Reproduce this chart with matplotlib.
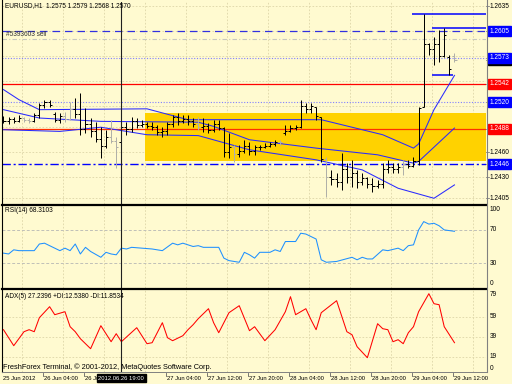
import matplotlib
matplotlib.use('Agg')
import matplotlib.pyplot as plt
from matplotlib.transforms import blended_transform_factory as btf

# ---------------- data ----------------
opens = [1.2500,1.2497,1.2500,1.2497,1.2501,1.2499,1.2498,1.2505,1.2516,1.2520,
         1.2506,1.2499,1.2503,1.2500,1.2512,1.2506,1.2488,1.2494,1.2486,1.2476,
         1.2468,1.2478,1.2474,1.2472,1.2490,1.2488,1.2497,1.2493,1.2494,1.2492,
         1.2490,1.2484,1.2486,1.2494,1.2502,1.2498,1.2500,1.2497,1.2494,1.2490,
         1.2492,1.2487,1.2494,1.2489,1.2460,1.2466,1.2458,1.2462,1.2468,1.2461,
         1.2466,1.2466,1.2467,1.2470,1.2472,1.2483,1.2486,1.2489,1.2490,1.2515,
         1.2512,1.2514,1.2502,1.2452,1.2430,1.2428,1.2425,1.2440,1.2430,1.2435,
         1.2424,1.2429,1.2422,1.2420,1.2422,1.2440,1.2443,1.2440,1.2442,1.2446,
         1.2444,1.2449,1.2514,1.2590,1.2584,1.2590,1.2575,1.2574,1.2575]
highs = [1.2503,1.2502,1.2502,1.2505,1.2502,1.2501,1.2507,1.2519,1.2523,1.2523,
         1.2508,1.2507,1.2508,1.2520,1.2525,1.2531,1.2513,1.2501,1.2496,1.2490,
         1.2487,1.2499,1.2478,1.2496,1.2496,1.2502,1.2501,1.2499,1.2496,1.2496,
         1.2493,1.2490,1.2496,1.2505,1.2507,1.2505,1.2505,1.2501,1.2502,1.2501,
         1.2495,1.2499,1.2499,1.2490,1.2483,1.2469,1.2469,1.2475,1.2472,1.2469,
         1.2469,1.2471,1.2472,1.2475,1.2475,1.2493,1.2493,1.2493,1.2523,1.2519,
         1.2519,1.2514,1.2502,1.2454,1.2439,1.2435,1.2459,1.2447,1.2451,1.2439,
         1.2435,1.2431,1.2429,1.2427,1.2447,1.2451,1.2447,1.2447,1.2451,1.2451,
         1.2454,1.2514,1.2625,1.2591,1.2598,1.2606,1.2609,1.2576,1.2579]
lows = [1.2495,1.2494,1.2495,1.2496,1.2496,1.2495,1.2496,1.2501,1.2513,1.2514,
        1.2496,1.2495,1.2496,1.2499,1.2501,1.2481,1.2483,1.2478,1.2472,1.2453,
        1.2465,1.2471,1.2441,1.2471,1.2481,1.2484,1.2489,1.2490,1.2489,1.2487,
        1.2481,1.2478,1.2481,1.2490,1.2493,1.2495,1.2493,1.2490,1.2487,1.2484,
        1.2483,1.2484,1.2487,1.2454,1.2453,1.2448,1.2454,1.2459,1.2457,1.2457,
        1.2463,1.2465,1.2466,1.2468,1.2469,1.2481,1.2484,1.2487,1.2489,1.2507,
        1.2507,1.2499,1.2448,1.2407,1.2421,1.2419,1.2415,1.2423,1.2419,1.2417,
        1.2421,1.2417,1.2413,1.2417,1.2417,1.2435,1.2435,1.2435,1.2433,1.2441,
        1.2442,1.2445,1.2514,1.2576,1.2564,1.2568,1.2574,1.2552,1.2568]
closes = [1.2497,1.2500,1.2497,1.2501,1.2499,1.2498,1.2505,1.2516,1.2520,1.2516,
          1.2499,1.2503,1.2500,1.2512,1.2506,1.2488,1.2494,1.2486,1.2476,1.2468,
          1.2478,1.2474,1.2466,1.2490,1.2488,1.2497,1.2493,1.2494,1.2492,1.2490,
          1.2484,1.2486,1.2494,1.2502,1.2498,1.2500,1.2497,1.2494,1.2490,1.2492,
          1.2487,1.2494,1.2489,1.2460,1.2466,1.2458,1.2462,1.2468,1.2461,1.2466,
          1.2466,1.2467,1.2470,1.2472,1.2472,1.2486,1.2489,1.2490,1.2515,1.2512,
          1.2515,1.2503,1.2452,1.2430,1.2428,1.2425,1.2440,1.2430,1.2435,1.2424,
          1.2429,1.2422,1.2420,1.2422,1.2440,1.2443,1.2440,1.2442,1.2446,1.2444,
          1.2449,1.2513,1.2590,1.2584,1.2590,1.2575,1.2600,1.2560,1.2570]
gray_bars = [4, 5, 12, 13, 21, 22, 38, 45, 54, 63, 78, 88]

# Bollinger-type bands (bar index, price)
upper_bar = [0, 3, 7, 28, 36, 62, 74, 80, 81, 84, 88]
upper_val = [1.2535, 1.2523, 1.2511, 1.2512, 1.2499, 1.2499, 1.2481, 1.2465, 1.2470, 1.2511, 1.2552]
middle_bar = [0, 7, 19, 38, 41, 48, 61, 73, 80, 81, 88]
middle_val = [1.2511, 1.2501, 1.2497, 1.2496, 1.2491, 1.2475, 1.2465, 1.2457, 1.2447, 1.2449, 1.2489]
lower_bar = [0, 11, 19, 28, 38, 48, 61, 70, 77, 84, 88]
lower_val = [1.2487, 1.2485, 1.2490, 1.2481, 1.2480, 1.2463, 1.2451, 1.2439, 1.2417, 1.2405, 1.2421]

# horizontal levels
lvl_blue_dash = 1.2605
lvl_order = 1.2595
lvl_dot1 = 1.2573
lvl_red1 = 1.2542
lvl_dot2 = 1.2520
lvl_red2 = 1.2488
lvl_dashdot = 1.2446
zone_low, zone_high, zone_start = 1.2450, 1.2507, 27.6
seg_start = [79.7, 83.6, 83.6]
seg_end = [94.2, 94.2, 87.7]
seg_price = [1.2625, 1.2609, 1.2552]

price_plain = ['1.2635', '1.2460', '1.2430', '1.2405']
price_boxes = [('1.2605', '#0000FF'), ('1.2570', '#000000'), ('1.2573', '#0000FF'),
               ('1.2542', '#FF0000'), ('1.2520', '#0000FF'), ('1.2488', '#FF0000'),
               ('1.2446', '#0000FF')]

rsi_bar = [0,1,2,3,6,7,8,11,12,13,14,15,16,17,19,20,21,22,23,24,25,27,29,31,33,34,35,37,38,39,
           42,43,44,46,47,48,49,50,52,53,54,55,57,58,59,61,62,63,65,68,69,70,71,72,74,75,77,78,
           79,80,81,82,83,84,85,86,88]
rsi_val = [42,41,46,45,45,53,54,45,48,45,53,41,49,44,37,43,41,40,48,47,49,48,47,45,54,52,54,50,51,49,
           49,36,33,31,43,40,36,43,43,46,44,56,56,66,65,59,34,31,32,37,34,37,35,35,46,45,48,45,
           51,52,70,80,77,78,75,70,68.3]

adx_bar = [0,2,4,5,6,7,9,10,12,13,14,15,17,19,21,22,23,26,28,29,31,32,33,35,36,37,38,40,41,42,
           44,46,48,49,51,53,55,56,57,59,60,61,62,64,65,67,68,69,71,73,74,75,76,77,78,79,80,81,
           83,84,85,86,87,88]
adx_val = [46,30,44,46,44,58,69,61,64,49,44,37,27,50,34,42,34,48,32,33,53,38,35,40,46,51,57,67,53,43,
           63,70,45,49,35,46,64,79,61,67,56,46,63,71,75,44,41,29,18,52,47,46,34,36,32,43,49,64,
           82,72,71,49,41,33]

time_bar = [8, 16, 32, 40, 48, 56, 64, 72, 80, 88]
time_lbl = ['26 Jun 04:00', '26 Jun 12:00', '27 Jun 04:00', '27 Jun 12:00', '27 Jun 20:00',
            '28 Jun 04:00', '28 Jun 12:00', '28 Jun 20:00', '29 Jun 04:00', '29 Jun 12:00']
cross_bar = 23

# ---------------- figure ----------------
W, H = 512, 384
BG = '#FFFAD0'
FONT = ['Liberation Sans', 'DejaVu Sans']
plt.rcParams['font.family'] = FONT
fig = plt.figure(figsize=(5.12, 3.84), dpi=100)
fig.patch.set_facecolor(BG)

def axes_px(x0, y0, x1, y1):
    a = fig.add_axes([x0 / W, 1 - y1 / H, (x1 - x0) / W, (y1 - y0) / H])
    a.set_facecolor(BG)
    a.set_xticks([]); a.set_yticks([])
    for s in a.spines.values():
        s.set_visible(False)
    return a

ax = axes_px(2, 2, 486, 204)
ar = axes_px(2, 205, 486, 288)
ad = axes_px(2, 290, 486, 372)

XL = (-0.29, 94.15)
for a in (ax, ar, ad):
    a.set_xlim(*XL)
p_top = 1.2635 + 4 / 8360
p_bot = 1.2635 - 198 / 8360
ax.set_ylim(p_bot, p_top)
ar.set_ylim(0, 100)
ad.set_ylim(3.7, 85.7)

GRID = '#DDD6A8'
vgrid = [3.6 + 8 * k for k in range(12)]
for a in (ax, ar, ad):
    for g in vgrid:
        a.axvline(g, color=GRID, lw=0.6, ls=(0, (2, 2)), zorder=0)
for v in [1.2635, 1.2605, 1.2575, 1.2545, 1.2515, 1.2490, 1.2460, 1.2430, 1.2405]:
    ax.axhline(v, color=GRID, lw=0.6, ls=(0, (2, 2)), zorder=0)

# zone
ax.fill_between([zone_start, XL[1]], zone_low, zone_high, color='#FFD200', lw=0, zorder=1)

# levels
ax.axhline(lvl_blue_dash, color='#3030E0', lw=0.9, ls=(0, (6, 4)), zorder=2)
ax.axhline(lvl_order, color='#C8C8C0', lw=0.8, ls=(0, (4, 2, 1, 2)), zorder=2)
ax.axhline(lvl_dot1, color='#8080FF', lw=0.8, ls=(0, (1, 1.5)), zorder=2)
ax.axhline(lvl_red1, color='#FF0000', lw=0.9, zorder=2)
ax.axhline(lvl_dot2, color='#8080FF', lw=0.8, ls=(0, (1, 1.5)), zorder=2)
ax.axhline(lvl_red2, color='#FF3000', lw=0.9, zorder=2)
ax.axhline(lvl_dashdot, color='#0000FF', lw=1.0, ls=(0, (6, 2, 1.5, 2)), zorder=2)
for s, e, p in zip(seg_start, seg_end, seg_price):
    ax.plot([s, e], [p, p], color='#0000FF', lw=1.1, zorder=3, solid_capstyle='butt')

# bands
for bx, bv in ((upper_bar, upper_val), (middle_bar, middle_val), (lower_bar, lower_val)):
    ax.plot(bx, bv, color='#2A2AFF', lw=0.75, zorder=3)

# OHLC bars
BLW = 0.72
for i, (o, h, l, c) in enumerate(zip(opens, highs, lows, closes)):
    col = '#B0B0A8' if i in gray_bars else '#000000'
    ax.plot([i, i], [l, h], color=col, lw=BLW, zorder=4, solid_capstyle='butt')
    ax.plot([i - 0.4, i], [o, o], color=col, lw=BLW, zorder=4, solid_capstyle='butt')
    ax.plot([i, i + 0.4], [c, c], color=col, lw=BLW, zorder=4, solid_capstyle='butt')

# RSI
ar.axhline(70, color='#C0C0B8', lw=0.7, ls=(0, (3, 2)), zorder=1)
ar.axhline(30, color='#C0C0B8', lw=0.7, ls=(0, (3, 2)), zorder=1)
ar.plot(rsi_bar, rsi_val, color='#1E90FF', lw=0.75, zorder=3)

# ADX
for v in (59, 39, 19):
    ad.axhline(v, color=GRID, lw=0.6, ls=(0, (2, 2)), zorder=0)
ad.plot(adx_bar, adx_val, color='#FF0000', lw=0.75, zorder=3)

# crosshair
for a in (ax, ar, ad):
    a.axvline(cross_bar, color='#202020', lw=0.8, zorder=5)
fig.add_artist(plt.Line2D([2 / W, 2 / W], [1 - 372 / H, 1], color='#000000', lw=0.8))

def hline_px(y, lw=1.6, color='#000000', x0=2, x1=486):
    fig.add_artist(plt.Line2D([x0 / W, x1 / W], [1 - y / H, 1 - y / H], color=color, lw=lw))
def vline_px(x, y0, y1, lw=0.8, color='#808080'):
    fig.add_artist(plt.Line2D([x / W, x / W], [1 - y0 / H, 1 - y1 / H], color=color, lw=lw))

hline_px(204.5)
hline_px(289)
hline_px(372, lw=0.7, color='#808080')
vline_px(486.5, 0, 372)

FS = 4.7
# right scale labels
def right_label(a, val, txt, fc=None):
    tr = btf(a.transAxes, a.transData)
    kw = dict(transform=tr, fontsize=FS, va='center', ha='left', clip_on=False, color='#000000')
    if fc:
        kw['bbox'] = dict(boxstyle='square,pad=0.22', fc=fc, ec=fc)
        kw['color'] = '#FFFFFF'
    a.text(1.008, val, txt, **kw)
    a.plot([1.0, 1.006], [val, val], transform=tr, color='#808080', lw=0.6, clip_on=False)

for t in price_plain:
    right_label(ax, float(t), t)
for t, c in price_boxes:
    right_label(ax, float(t), t, fc=c)

for v, t in ((100, '100'), (70, '70'), (30, '30'), (0, '0')):
    vv = 95 if v == 100 else (5 if v == 0 else v)
    ar.text(1.008, vv, t, transform=btf(ar.transAxes, ar.transData), fontsize=FS,
            va='center', ha='left', clip_on=False)
for v, t in ((81.5, '79'), (59, '59'), (39, '39'), (19, '19'), (7.7, '0')):
    ad.text(1.008, v, t, transform=btf(ad.transAxes, ad.transData), fontsize=FS,
            va='center', ha='left', clip_on=False)

# titles
fig.text(5 / W, 1 - 6 / H, 'EURUSD,H1  1.2575 1.2579 1.2568 1.2570', fontsize=FS, va='center', ha='left')
fig.text(6 / W, 1 - 34 / H, '#5393603 sell', fontsize=FS, va='center', ha='left', color='#303030')
fig.text(5 / W, 1 - 211 / H, 'RSI(14) 68.3103', fontsize=FS, va='center', ha='left')
fig.text(5 / W, 1 - 296 / H, 'ADX(5) 27.2396 +DI:12.5380 -DI:11.8534', fontsize=FS, va='center', ha='left')
fig.text(3 / W, 1 - 367 / H, 'FreshForex Terminal, \u00a9 2001-2012, MetaQuotes Software Corp.',
         fontsize=5.3, va='center', ha='left')

# time axis
TFS = 4.2
trd = btf(ad.transData, fig.transFigure)
fig.text(3 / W, 1 - 378 / H, '25 Jun 2012', fontsize=TFS, va='center', ha='left')
for b, t in zip(time_bar, time_lbl):
    ad.text(b - 0.1, 1 - 378 / H, t, transform=trd, fontsize=TFS, va='center', ha='left',
            clip_on=False, zorder=2)
    ad.plot([b - 0.3, b - 0.3], [1 - 373 / H, 1 - 376 / H], transform=trd, color='#606060',
            lw=0.6, clip_on=False)
ad.text(cross_bar, 1 - 378 / H, '2012.06.26 19:00', transform=trd, fontsize=TFS, va='center',
        ha='center', color='#FFFFFF', clip_on=False, zorder=6,
        bbox=dict(boxstyle='square,pad=0.3', fc='#000000', ec='#000000'))

fig.savefig('out.png', dpi=100, facecolor=BG)
